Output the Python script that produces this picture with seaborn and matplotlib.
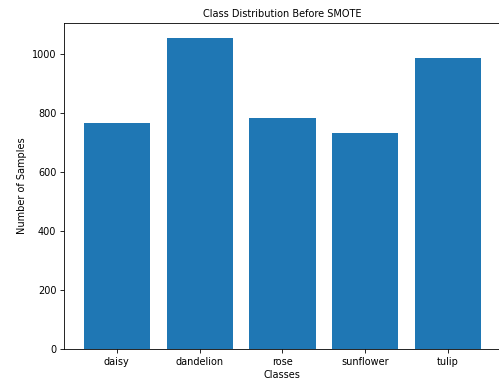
import matplotlib
matplotlib.use("Agg")
import matplotlib.pyplot as plt
import seaborn as sns
import pandas as pd

classes = ["daisy", "dandelion", "rose", "sunflower", "tulip"]
counts = [764, 1052, 784, 733, 984]

fs = 7.0
plt.rcParams["font.size"] = fs
plt.rcParams["font.family"] = ["DejaVu Sans"]

df = pd.DataFrame({"Classes": classes, "Count": counts})

fig = plt.figure(figsize=(4.99, 3.8), dpi=100)
ax = fig.add_axes([0.128, 0.081, 0.876, 0.859])
sns.barplot(data=df, x="Classes", y="Count", color="#1f77b4", saturation=1,
            width=0.8, ax=ax, edgecolor="none")
ax.set_xlim(-0.64, 4.64)
ax.set_ylim(0, 1104.6)
ax.set_title("Class Distribution Before SMOTE", fontsize=fs, pad=4.5)
ax.set_xlabel("Classes", fontsize=fs, labelpad=2.5)
ax.set_ylabel("Number of Samples", fontsize=fs, labelpad=3.5)
ax.tick_params(labelsize=fs, length=2.7, width=0.6, pad=2.7)
for s in ax.spines.values():
    s.set_linewidth(0.6)
ax.spines["right"].set_visible(False)
fig.savefig("out.png", dpi=100)
